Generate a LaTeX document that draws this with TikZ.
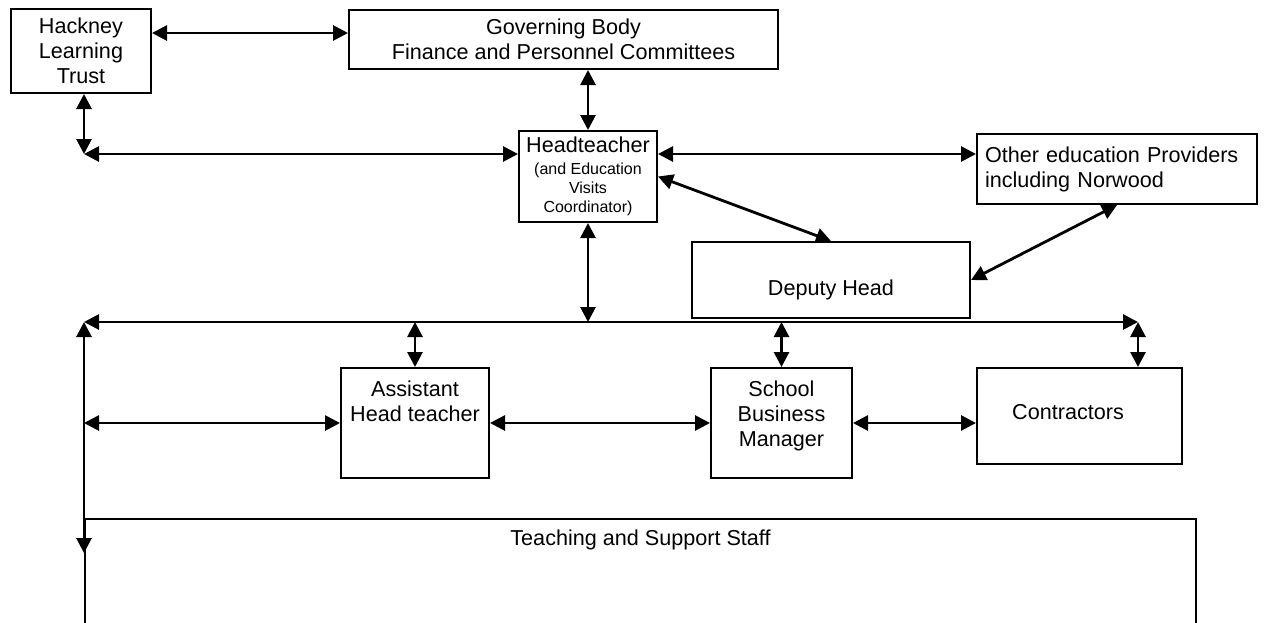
\documentclass[tikz,border=0pt]{standalone}
\usepackage{fontspec}
\setmainfont{Liberation Sans}
\usetikzlibrary{arrows.meta,positioning,calc}

\newcommand{\bodyfont}{\fontsize{10.8}{12.5}\selectfont}
\newcommand{\notefont}{\fontsize{8}{9.5}\selectfont}

\begin{document}
\begin{tikzpicture}[x=0.5pt, y=-0.5pt,
    box/.style={draw, rectangle, line width=1pt, inner sep=0pt, font=\bodyfont, align=center},
    tag/.style={font=\bodyfont, align=center, inner sep=0pt},
    link/.style={{Triangle[length=7.5pt,width=7.5pt]}-{Triangle[length=7.5pt,width=7.5pt]}, line width=1.4pt}
]
    \useasboundingbox (0,0) rectangle (1264,622);
    \clip (0,0) rectangle (1264,622);

    % upper part
    \node[box, minimum width=70pt, minimum height=42pt] (hlt) at (81,51) {Hackney\\Learning\\Trust};
    \node[box, minimum width=214.5pt, minimum height=29.5pt] (gov) at (563.5,39.5) {Governing Body\\Finance and Personnel Committees};
    \node[box, minimum width=69pt, minimum height=45.5pt] (head) at (588,176.5)
        {Headteacher\\[-1.5pt]\notefont (and Education\\[-3pt]\notefont Visits\\[-3pt]\notefont Coordinator)};
    \node[box, minimum width=140pt, minimum height=35pt, text width=132pt, align=left] (other) at (1117,169)
        {Other education Providers\\including Norwood};
    \node[box, minimum width=139pt, minimum height=38pt,
        label={[tag, yshift=-5pt]center:Deputy Head}] (dep) at (831,280) {};

    % lower part
    \node[box, minimum width=74pt, minimum height=55pt,
        label={[tag, anchor=north, yshift=-6.5pt]north:Assistant\\Head teacher}] (ast) at (415,423) {};
    \node[box, minimum width=70.5pt, minimum height=55pt,
        label={[tag, anchor=north, yshift=-6.5pt]north:School\\Business\\Manager}] (sbm) at (781.5,423) {};
    \node[box, minimum width=102.5pt, minimum height=48pt,
        label={[tag, xshift=-5.75pt, yshift=2pt]center:Contractors}] (con) at (1079.5,416) {};
    \node[box, anchor=north west, minimum width=555.5pt, minimum height=100pt,
        label={[tag, anchor=north, yshift=-5.5pt]north:Teaching and Support Staff}] (staff) at (84,518) {};

    % junction points
    \coordinate (t1) at ([yshift=9pt]hlt.east);
    \coordinate (hw) at ([yshift=-12pt]head.north west);
    \coordinate (he) at ([yshift=-12pt]head.north east);
    \coordinate (bl) at (84,322);
    \coordinate (br) at (1138,322);
    \coordinate (bd) at (84,553);
    \coordinate (c1) at (bl |- hw);

    \draw[link] (t1) -- (t1 -| gov.west);
    \draw[link] (head.north |- gov.south) -- (head.north);
    \draw[link] (c1 |- hlt.south) -- (c1);
    \draw[link] (c1) -- (hw);
    \draw[link] (he) -- (he -| other.west);
    \draw[link] (head.east) -- (dep.north);
    \draw[link] (other.south) -- (dep.east);

    \draw[link] (head.south) -- (head.south |- bl);
    \draw[link] (bl) -- (br);
    \draw[link] (bl) -- (bd);
    \draw[link] (ast.north |- bl) -- (ast.north);
    \draw[link] (sbm.north |- bl) -- (sbm.north);
    \draw[link] (br) -- (br |- con.north);
    \draw[link] (ast.west -| bl) -- (ast.west);
    \draw[link] (ast.east) -- (sbm.west);
    \draw[link] (sbm.east) -- (sbm.east -| con.west);
\end{tikzpicture}
\end{document}
